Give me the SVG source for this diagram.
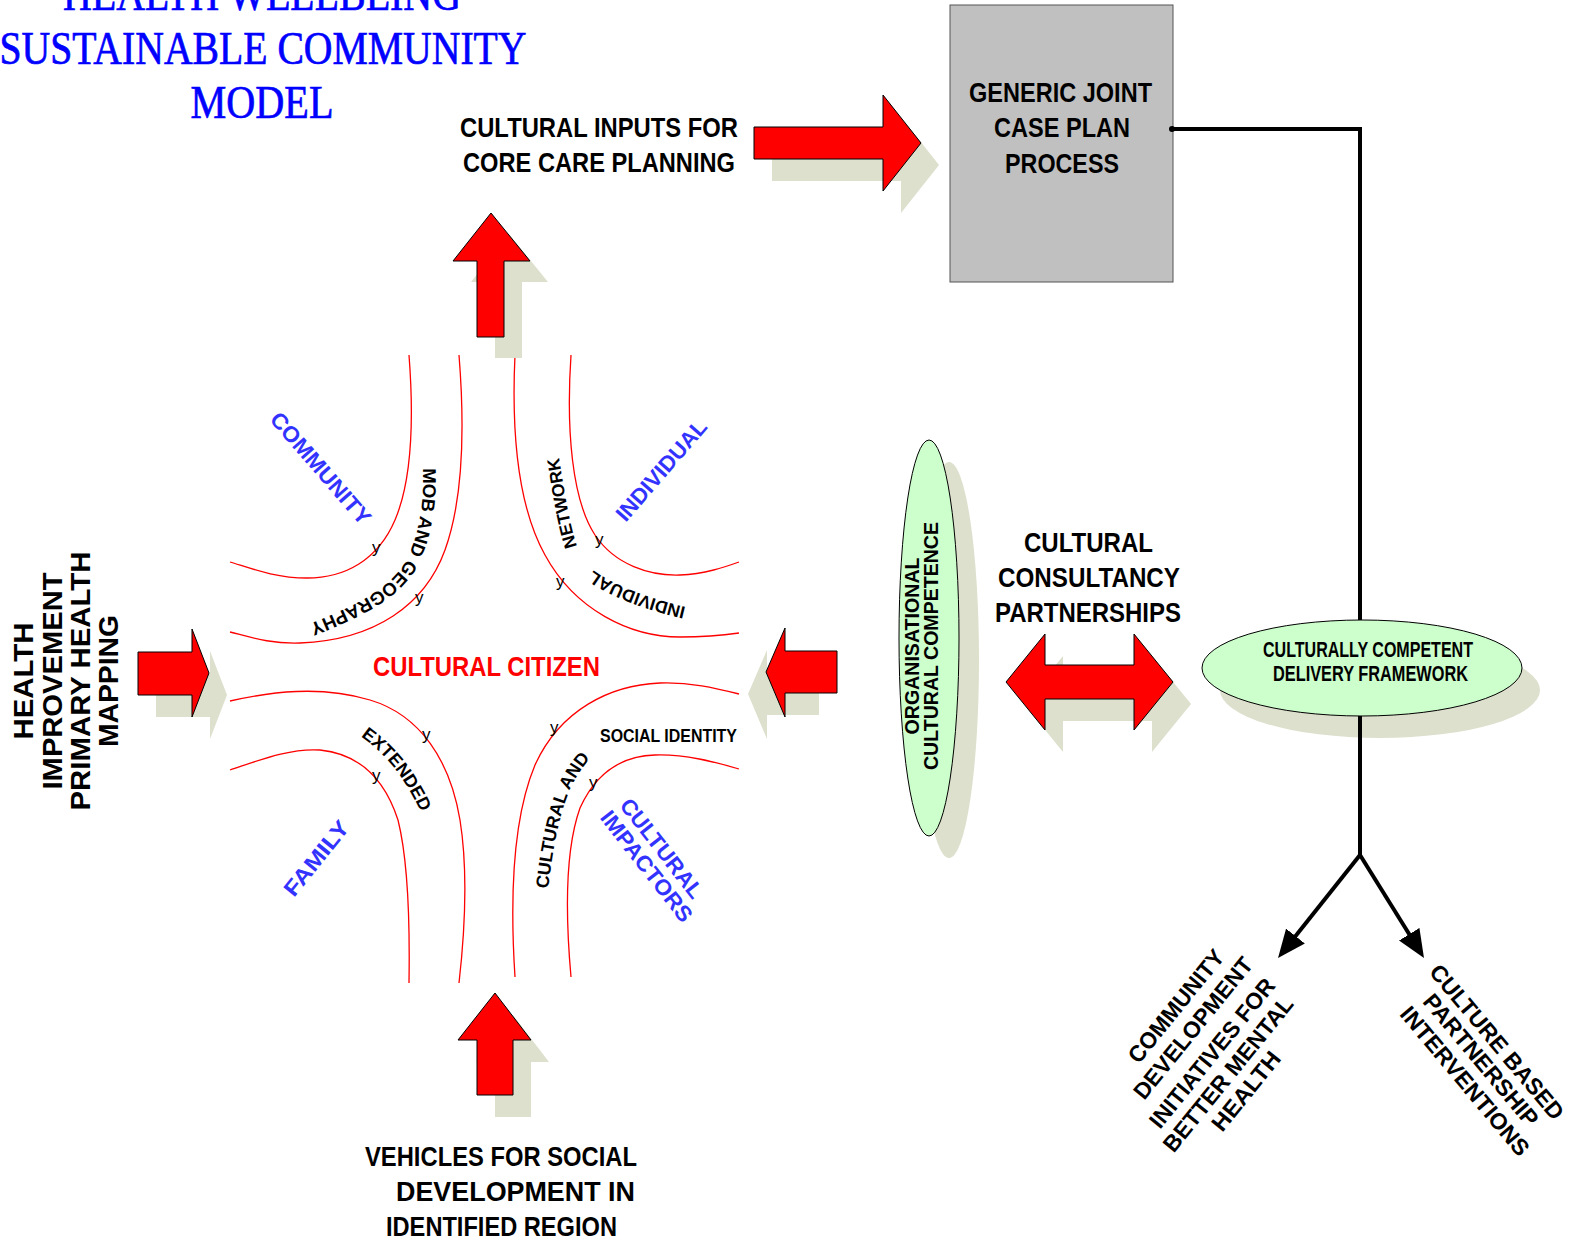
<svg xmlns="http://www.w3.org/2000/svg" width="1570" height="1242" viewBox="0 0 1570 1242">
<defs>
<style>
.t{font-family:"Liberation Sans",Arial,sans-serif;font-weight:bold;fill:#000}
.lg{font-size:28px}
.md{font-size:23px}
.bl{font-size:22px;fill:#3333ff}
.pt{font-size:18px}
.yy{font-family:"Liberation Sans",Arial,sans-serif;font-size:17px;fill:#000}
.ttl{font-family:"Liberation Serif","Times New Roman",serif;font-size:47px;fill:#0000ff;stroke:#0000ff;stroke-width:0.7}
.ra{fill:#ff0000;stroke:#000;stroke-width:1}
.sh{fill:#dde0cc}
.cv{fill:none;stroke:#ff0000;stroke-width:1.3}
.gr{fill:#ccffcc;stroke:#000;stroke-width:1}
.cn{fill:none;stroke:#000;stroke-width:4}
</style>
<marker id="ah" markerUnits="userSpaceOnUse" viewBox="0 0 28 24" refX="3" refY="12" markerWidth="28" markerHeight="24" orient="auto"><path d="M0,0 L28,12 L0,24 z" fill="#000"/></marker>
<path id="pTL" d="M423,468 C424,505 419,537 404,564 C386,592 352,607 300,628"/>
<path id="pTR" d="M686,607 C640,596 600,580 585,562 C572,545 566,500 556,440"/>
<path id="pBL" d="M347,728 Q400,757 427,827"/>
<path id="pBR" d="M548,893 C552,850 560,810 572,785 C580,770 590,757 600,748"/>
</defs>

<g id="title">
<text class="ttl" x="262" y="10" text-anchor="middle" textLength="398" lengthAdjust="spacingAndGlyphs">HEALTH WELLBEING</text>
<text class="ttl" x="263" y="64" text-anchor="middle" textLength="527" lengthAdjust="spacingAndGlyphs">SUSTAINABLE COMMUNITY</text>
<text class="ttl" x="262" y="118" text-anchor="middle" textLength="143" lengthAdjust="spacingAndGlyphs">MODEL</text>
</g>

<g id="curves">
<path class="cv" d="M409,355 C414,420 412,480 395,520 C378,560 345,578 307,578 C275,578 250,568 230,562"/>
<path class="cv" d="M459,355 C465,430 463,500 445,550 C425,605 375,640 300,643 C270,644 250,637 230,632"/>
<path class="cv" d="M515,355 C511,440 520,510 545,555 C575,610 630,637 680,637 C705,637 725,635 739,633"/>
<path class="cv" d="M571,355 C566,430 572,500 595,535 C615,565 650,576 680,575 C705,574 725,567 739,562"/>
<path class="cv" d="M230,701 C270,692 320,685 370,700 C420,715 450,760 460,820 C468,870 465,930 459,983"/>
<path class="cv" d="M230,770 C260,760 290,748 320,750 C360,754 385,780 398,820 C408,860 410,920 409,983"/>
<path class="cv" d="M515,977 C510,900 512,820 535,765 C560,710 610,685 660,683 C690,682 715,688 739,694"/>
<path class="cv" d="M571,977 C565,910 565,850 580,808 C595,775 620,756 655,755 C685,754 715,762 739,769"/>
<text class="yy" x="372" y="553">y</text>
<text class="yy" x="415" y="603">y</text>
<text class="yy" x="595" y="545">y</text>
<text class="yy" x="556" y="587">y</text>
<text class="yy" x="422" y="740">y</text>
<text class="yy" x="372" y="781">y</text>
<text class="yy" x="550" y="733">y</text>
<text class="yy" x="589" y="788">y</text>
<text class="t pt" style="font-size:18.5px"><textPath href="#pTL">MOB AND GEOGRAPHY</textPath></text>
<text class="t pt" style="font-size:17.5px"><textPath href="#pTR">INDIVIDUAL</textPath></text>
<text class="t pt" style="font-size:17.5px"><textPath href="#pTR" startOffset="130">NETWORK</textPath></text>
<text class="t pt"><textPath href="#pBL" startOffset="50%" text-anchor="middle">EXTENDED</textPath></text>
<text class="t pt"><textPath href="#pBR" startOffset="4">CULTURAL AND</textPath></text>
<text class="t pt" x="600" y="742" textLength="137" lengthAdjust="spacingAndGlyphs">SOCIAL IDENTITY</text>
<text class="t bl" transform="translate(321,468) rotate(49)" y="8" text-anchor="middle" textLength="141" lengthAdjust="spacingAndGlyphs">COMMUNITY</text>
<text class="t bl" transform="translate(661,470) rotate(-49)" y="8" text-anchor="middle" textLength="126" lengthAdjust="spacingAndGlyphs">INDIVIDUAL</text>
<text class="t bl" transform="translate(316,858) rotate(-51)" y="8" text-anchor="middle" textLength="90" lengthAdjust="spacingAndGlyphs">FAMILY</text>
<text class="t bl" transform="translate(662,848) rotate(52)" y="8" text-anchor="middle" textLength="120" lengthAdjust="spacingAndGlyphs">CULTURAL</text>
<text class="t bl" transform="translate(647,866) rotate(52)" y="8" text-anchor="middle" textLength="135" lengthAdjust="spacingAndGlyphs">IMPACTORS</text>
<text class="t lg" x="373" y="676" style="fill:#ff0000" textLength="227" lengthAdjust="spacingAndGlyphs">CULTURAL CITIZEN</text>
</g>

<g id="arrows">
<polygon class="sh" transform="translate(18,22)" points="754,127 883,127 883,95 921,143 883,191 883,159 754,159"/>
<polygon class="ra" points="754,127 883,127 883,95 921,143 883,191 883,159 754,159"/>
<polygon class="sh" transform="translate(18,21)" points="491,213 530,261 504,261 504,337 477,337 477,261 453,261"/>
<polygon class="ra" points="491,213 530,261 504,261 504,337 477,337 477,261 453,261"/>
<polygon class="sh" transform="translate(18,22)" points="495,993 531,1040 513,1040 513,1095 477,1095 477,1040 458,1040"/>
<polygon class="ra" points="495,993 531,1040 513,1040 513,1095 477,1095 477,1040 458,1040"/>
<polygon class="sh" transform="translate(18,22)" points="138,652 192,652 192,629 209,673 192,717 192,695 138,695"/>
<polygon class="ra" points="138,652 192,652 192,629 209,673 192,717 192,695 138,695"/>
<polygon class="sh" transform="translate(-18,22)" points="837,651 785,651 785,628 766,672 785,717 785,693 837,693"/>
<polygon class="ra" points="837,651 785,651 785,628 766,672 785,717 785,693 837,693"/>
<polygon class="sh" transform="translate(18,22)" points="1006,682 1045,634 1045,665 1134,665 1134,634 1173,682 1134,730 1134,699 1045,699 1045,730"/>
<polygon class="ra" points="1006,682 1045,634 1045,665 1134,665 1134,634 1173,682 1134,730 1134,699 1045,699 1045,730"/>
</g>

<g id="inputs-label">
<text class="t lg" x="460" y="137" textLength="278" lengthAdjust="spacingAndGlyphs">CULTURAL INPUTS FOR</text>
<text class="t lg" x="463" y="172" textLength="272" lengthAdjust="spacingAndGlyphs">CORE CARE PLANNING</text>
</g>

<g id="vehicles-label">
<text class="t lg" x="365" y="1166" textLength="272" lengthAdjust="spacingAndGlyphs">VEHICLES FOR SOCIAL</text>
<text class="t lg" x="396" y="1201" textLength="239" lengthAdjust="spacingAndGlyphs">DEVELOPMENT IN</text>
<text class="t lg" x="386" y="1236" textLength="231" lengthAdjust="spacingAndGlyphs">IDENTIFIED REGION</text>
</g>

<g id="health-label" transform="translate(0,681) rotate(-90)">
<text class="t" style="font-size:27px" x="0" y="33" text-anchor="middle" textLength="117" lengthAdjust="spacingAndGlyphs">HEALTH</text>
<text class="t" style="font-size:27px" x="0" y="62" text-anchor="middle" textLength="217" lengthAdjust="spacingAndGlyphs">IMPROVEMENT</text>
<text class="t" style="font-size:27px" x="0" y="90" text-anchor="middle" textLength="259" lengthAdjust="spacingAndGlyphs">PRIMARY HEALTH</text>
<text class="t" style="font-size:27px" x="0" y="118" text-anchor="middle" textLength="132" lengthAdjust="spacingAndGlyphs">MAPPING</text>
</g>

<g id="generic-box">
<rect x="950" y="5" width="223" height="277" fill="#c0c0c0" stroke="#555" stroke-width="1"/>
<text class="t lg" x="969" y="102" textLength="183" lengthAdjust="spacingAndGlyphs">GENERIC JOINT</text>
<text class="t lg" x="994" y="137" textLength="136" lengthAdjust="spacingAndGlyphs">CASE PLAN</text>
<text class="t lg" x="1005" y="173" textLength="114" lengthAdjust="spacingAndGlyphs">PROCESS</text>
</g>

<g id="org-competence">
<ellipse class="sh" cx="949" cy="660" rx="30" ry="198"/>
<ellipse class="gr" cx="929" cy="638" rx="30" ry="198"/>
<g transform="translate(0,646) rotate(-90)">
<text class="t" style="font-size:20px" x="0" y="919" text-anchor="middle" textLength="177" lengthAdjust="spacingAndGlyphs">ORGANISATIONAL</text>
<text class="t" style="font-size:20px" x="0" y="938" text-anchor="middle" textLength="248" lengthAdjust="spacingAndGlyphs">CULTURAL COMPETENCE</text>
</g>
</g>

<g id="consultancy-label">
<text class="t lg" x="1024" y="552" textLength="129" lengthAdjust="spacingAndGlyphs">CULTURAL</text>
<text class="t lg" x="998" y="587" textLength="182" lengthAdjust="spacingAndGlyphs">CONSULTANCY</text>
<text class="t lg" x="995" y="622" textLength="186" lengthAdjust="spacingAndGlyphs">PARTNERSHIPS</text>
</g>

<g id="delivery-framework">
<ellipse class="sh" cx="1380" cy="690" rx="160" ry="48"/>
<ellipse class="gr" cx="1362" cy="668" rx="160" ry="48"/>
<text class="t" style="font-size:22px" x="1263" y="657" textLength="210" lengthAdjust="spacingAndGlyphs">CULTURALLY COMPETENT</text>
<text class="t" style="font-size:22px" x="1273" y="681" textLength="195" lengthAdjust="spacingAndGlyphs">DELIVERY FRAMEWORK</text>
</g>

<g id="community-initiatives">
<text class="t md" transform="translate(1176,1006) rotate(-51)" y="8" text-anchor="middle" textLength="138" lengthAdjust="spacingAndGlyphs">COMMUNITY</text>
<text class="t md" transform="translate(1193,1028) rotate(-51)" y="8" text-anchor="middle" textLength="175" lengthAdjust="spacingAndGlyphs">DEVELOPMENT</text>
<text class="t md" transform="translate(1212,1053) rotate(-51)" y="8" text-anchor="middle" textLength="185" lengthAdjust="spacingAndGlyphs">INITIATIVES FOR</text>
<text class="t md" transform="translate(1228,1074) rotate(-51)" y="8" text-anchor="middle" textLength="192" lengthAdjust="spacingAndGlyphs">BETTER MENTAL</text>
<text class="t md" transform="translate(1246,1091) rotate(-51)" y="8" text-anchor="middle" textLength="95" lengthAdjust="spacingAndGlyphs">HEALTH</text>
</g>

<g id="culture-interventions">
<text class="t md" transform="translate(1497,1042) rotate(50)" y="8" text-anchor="middle" textLength="195" lengthAdjust="spacingAndGlyphs">CULTURE BASED</text>
<text class="t md" transform="translate(1481,1060) rotate(50)" y="8" text-anchor="middle" textLength="165" lengthAdjust="spacingAndGlyphs">PARTNERSHIP</text>
<text class="t md" transform="translate(1465,1081) rotate(50)" y="8" text-anchor="middle" textLength="187" lengthAdjust="spacingAndGlyphs">INTERVENTIONS</text>
</g>

<g id="connectors">
<polyline class="cn" points="1172,129 1360,129 1360,620"/>
<circle cx="1172" cy="129" r="3" fill="#000"/>
<polyline class="cn" points="1360,716 1360,855"/>
<line class="cn" x1="1360" y1="855" x2="1293.6" y2="938.4" marker-end="url(#ah)"/>
<line class="cn" x1="1360" y1="855" x2="1410.8" y2="936.8" marker-end="url(#ah)"/>
</g>
</svg>
